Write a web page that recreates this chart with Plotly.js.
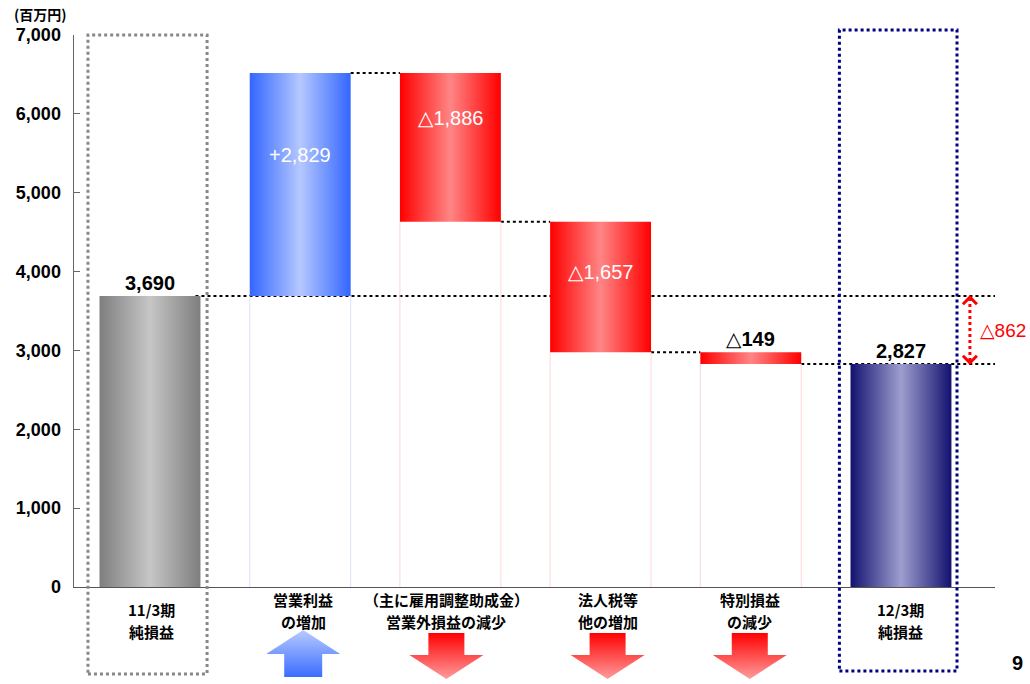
<!DOCTYPE html>
<html><head><meta charset="utf-8">
<script src="https://cdn.plot.ly/plotly-3.0.1.min.js"></script>
<style>html,body{margin:0;padding:0;background:#fff;}#chart{width:1030px;height:684px;}</style>
</head><body><div id="chart"></div>
<script>
// ---- data ----
const categories = ['11/3期<br>純損益', '営業利益<br>の増加', '（主に雇用調整助成金）<br>営業外損益の減少', '法人税等<br>他の増加', '特別損益<br>の減少', '12/3期<br>純損益'];
const startValue = 3690;
const deltas = [2829, -1886, -1657, -149];
const endValue = 2827;
const valueLabels = ['3,690', '+2,829', '△1,886', '△1,657', '△149', '2,827'];
const diffLabel = '△862';
const yTickVals = [0, 1000, 2000, 3000, 4000, 5000, 6000, 7000];
const unitLabel = '(百万円)';
const pageNumber = '9';

// ---- styling ----
const JP = '"Noto Sans CJK JP", "Liberation Sans", Arial, sans-serif';
const NUM = '"Liberation Sans", Arial, "DejaVu Sans", sans-serif';
const HW = 0.336;              // bar half width (category units)
const PX = 1 / 150.2;          // one pixel in category units
const XR = [-0.506, 5.626];
const grads = {
  gray: ['#7e7e7e', '#c6c6c6'],
  blue: ['#3366ff', '#b5c8ff'],
  red:  ['#ff0000', '#ff8585'],
  navy: ['#121270', '#9e9ecf']
};
const insideOffset = [null, 82, 45, 50, null, null];
const labelShiftPx = [1, 3, -4, 7, -1, 0];   // horizontal nudge of category labels / arrows
const paperY = p => (680 - p) / 645;           // pixel row -> paper y

// ---- build levels ----
const bars = [];
bars.push({lo: 0, hi: startValue, kind: 'gray'});
let run = startValue;
deltas.forEach(d => {
  const nxt = run + d;
  bars.push({lo: Math.min(run, nxt), hi: Math.max(run, nxt), kind: d >= 0 ? 'blue' : 'red', from: run, to: nxt});
  run = nxt;
});
bars.push({lo: 0, hi: endValue, kind: 'navy'});

const traces = [];
// faint base outlines of floating bars
bars.forEach((b, i) => {
  if (b.lo > 0) {
    const c = b.kind === 'blue' ? '#dbe2ff' : '#ffd6d6';
    traces.push({type: 'scatter', mode: 'lines', x: [i - HW, i - HW, null, i + HW, i + HW], y: [0, b.lo, null, 0, b.lo],
      line: {color: c, width: 1}, hoverinfo: 'skip', showlegend: false});
  }
});
// gradient bars
bars.forEach((b, i) => {
  const g = grads[b.kind];
  traces.push({type: 'scatter', mode: 'lines', x: [i - HW, i + HW, i + HW, i - HW, i - HW], y: [b.lo, b.lo, b.hi, b.hi, b.lo],
    fill: 'toself', fillcolor: g[1], line: {width: 0, color: 'rgba(0,0,0,0)'},
    fillgradient: {type: 'horizontal', colorscale: [[0, g[0]], [0.5, g[1]], [1, g[0]]]},
    hoverinfo: 'skip', showlegend: false});
});
// direction arrows below the axis (second subplot, pixel-like y units)
bars.forEach((b, i) => {
  const c = i + labelShiftPx[i] * PX;
  if (b.kind === 'blue') {
    const xs = [c, c + 37 * PX, c + 19 * PX, c + 19 * PX, c - 19 * PX, c - 19 * PX, c - 37 * PX, c];
    const ys = [630, 654, 654, 677, 677, 654, 654, 630];
    traces.push({type: 'scatter', mode: 'lines', x: xs, y: ys, xaxis: 'x2', yaxis: 'y2', fill: 'toself',
      fillcolor: '#7799ff', line: {width: 0, color: 'rgba(0,0,0,0)'},
      fillgradient: {type: 'vertical', colorscale: [[0, '#3a6cff'], [1, '#b8cbff']]}, hoverinfo: 'skip', showlegend: false});
  } else if (b.kind === 'red') {
    const xs = [c - 18 * PX, c + 18 * PX, c + 18 * PX, c + 37 * PX, c, c - 37 * PX, c - 18 * PX, c - 18 * PX];
    const ys = [633, 633, 655, 655, 679, 655, 655, 633];
    traces.push({type: 'scatter', mode: 'lines', x: xs, y: ys, xaxis: 'x2', yaxis: 'y2', fill: 'toself',
      fillcolor: '#ff5555', line: {width: 0, color: 'rgba(0,0,0,0)'},
      fillgradient: {type: 'vertical', colorscale: [[0, '#ff9c9c'], [1, '#ff0000']]}, hoverinfo: 'skip', showlegend: false});
  }
});

// ---- shapes ----
const shapes = [];
const dot = {color: '#000', width: 2, dash: 'dot'};
const xEdge = XR[1] + 35 * PX;
shapes.push({type: 'line', xref: 'x', yref: 'y', x0: 0 + HW - 5 * PX, x1: xEdge, y0: startValue, y1: startValue, line: dot, layer: 'below'});
for (let i = 1; i <= 3; i++) {
  const y = bars[i].to;
  shapes.push({type: 'line', xref: 'x', yref: 'y', x0: i + HW, x1: i + 1 - HW, y0: y, y1: y, line: dot, layer: 'below'});
}
shapes.push({type: 'line', xref: 'x', yref: 'y', x0: 4 + HW, x1: xEdge, y0: endValue, y1: endValue, line: dot, layer: 'below'});
// dotted frames around totals
shapes.push({type: 'rect', xref: 'x', yref: 'paper', x0: -0.413, x1: 0.38, y0: paperY(674), y1: paperY(35),
  line: {color: '#888888', width: 3, dash: 'dot'}, fillcolor: 'rgba(0,0,0,0)'});
shapes.push({type: 'rect', xref: 'x', yref: 'paper', x0: 5 - 0.41, x1: 5 + 0.373, y0: paperY(671), y1: paperY(30),
  line: {color: '#000080', width: 3, dash: 'dot'}, fillcolor: 'rgba(0,0,0,0)'});
// difference arrow
const ax = 5.459;
const hy = 105;
const red = {color: '#ff0000', width: 3};
shapes.push({type: 'line', xref: 'x', yref: 'y', x0: ax, x1: ax, y0: endValue + 40, y1: startValue - 40, line: {color: '#ff0000', width: 3, dash: 'dot'}});
shapes.push({type: 'path', xref: 'x', yref: 'y', path: `M ${ax - 7 * PX},${startValue - hy} L ${ax},${startValue - 15} L ${ax + 7 * PX},${startValue - hy}`, line: red});
shapes.push({type: 'path', xref: 'x', yref: 'y', path: `M ${ax - 7 * PX},${endValue + hy} L ${ax},${endValue + 15} L ${ax + 7 * PX},${endValue + hy}`, line: red});

// ---- annotations ----
const ann = [];
bars.forEach((b, i) => {
  if (insideOffset[i] !== null) {
    ann.push({x: i, y: b.hi, xref: 'x', yref: 'y', text: valueLabels[i], showarrow: false, yanchor: 'middle',
      yshift: -insideOffset[i], font: {family: NUM, size: 20, color: '#ffffff'}});
  } else {
    ann.push({x: i, y: b.hi, xref: 'x', yref: 'y', text: '<b>' + valueLabels[i] + '</b>', showarrow: false, yanchor: 'bottom',
      yshift: 0, font: {family: NUM, size: 20, color: '#000000'}});
  }
});
// category labels, one annotation per line (totals sit lower than the change labels)
categories.forEach((c, i) => {
  const isTotal = (i === 0 || i === categories.length - 1);
  const top = isTotal ? 609 : 599;
  c.split('<br>').forEach((line, k) => {
    ann.push({x: i, y: paperY(top + 22 * k), xref: 'x', yref: 'paper', text: '<b>' + line + '</b>', showarrow: false,
      xanchor: 'center', yanchor: 'middle', xshift: labelShiftPx[i],
      font: {family: JP, size: 15, color: '#000'}});
  });
});
ann.push({x: 0.9815, y: (startValue + endValue) / 2, xref: 'paper', yref: 'y', text: diffLabel, showarrow: false,
  xanchor: 'left', yanchor: 'middle', font: {family: NUM, size: 19, color: '#ff0000'}});
ann.push({x: -0.0673, y: paperY(14), xref: 'paper', yref: 'paper', text: '<b>' + unitLabel + '</b>', showarrow: false,
  xanchor: 'left', yanchor: 'middle', font: {family: JP, size: 14, color: '#000'}});
ann.push({x: 1.024, y: paperY(663), xref: 'paper', yref: 'paper', text: '<b>' + pageNumber + '</b>', showarrow: false,
  xanchor: 'center', yanchor: 'middle', font: {family: NUM, size: 20, color: '#000'}});

const layout = {
  width: 1030, height: 684,
  margin: {l: 74, r: 35, t: 35, b: 4},
  paper_bgcolor: '#ffffff', plot_bgcolor: 'rgba(0,0,0,0)',
  showlegend: false,
  xaxis: {domain: [0, 1], range: XR, showticklabels: false,
    showline: true, linecolor: '#555', linewidth: 1.5, ticks: '', showgrid: false, zeroline: false, anchor: 'y'},
  yaxis: {domain: [0.14419, 1], range: [0, 7000], tickvals: yTickVals, tickformat: ',d', showline: true, linecolor: '#666', linewidth: 1.5,
    ticks: 'inside', ticklen: 6, tickcolor: '#666', showgrid: false, zeroline: false, ticklabelstandoff: 8,
    tickfont: {family: NUM, size: 18, color: '#000', weight: 'bold'}, anchor: 'x'},
  xaxis2: {domain: [0, 1], matches: 'x', visible: false, anchor: 'y2'},
  yaxis2: {domain: [0, 0.1302], range: [680, 596], visible: false, anchor: 'x2'},
  shapes: shapes,
  annotations: ann
};

Plotly.newPlot('chart', traces, layout, {staticPlot: true, displayModeBar: false});
</script></body></html>
